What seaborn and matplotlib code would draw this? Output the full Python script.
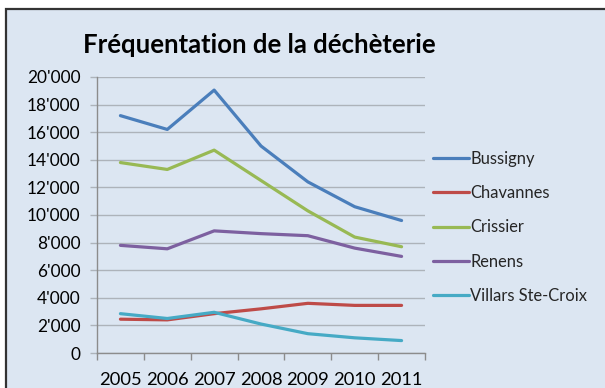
import matplotlib
matplotlib.use("Agg")
import matplotlib.pyplot as plt
from matplotlib.patches import Rectangle
from matplotlib.ticker import FuncFormatter, FixedLocator
import seaborn as sns
import pandas as pd

years = [2005, 2006, 2007, 2008, 2009, 2010, 2011]
bussigny = [17200, 16200, 19050, 15000, 12400, 10600, 9600]
chavannes = [2450, 2400, 2850, 3200, 3600, 3450, 3450]
crissier = [13800, 13300, 14700, 12500, 10300, 8400, 7700]
renens = [7800, 7550, 8850, 8650, 8500, 7600, 7000]
villars = [2850, 2500, 2950, 2100, 1400, 1100, 900]

series = {
    "Bussigny": bussigny,
    "Chavannes": chavannes,
    "Crissier": crissier,
    "Renens": renens,
    "Villars Ste-Croix": villars,
}
colors = ["#4a7ebb", "#be4b48", "#98b954", "#7d60a0", "#46aac5"]

rows = []
for name, vals in series.items():
    for y, v in zip(years, vals):
        rows.append({"Année": y, "Visites": v, "Déchèterie": name})
df = pd.DataFrame(rows)

sns.set_theme(style="white")
plt.rcParams["font.family"] = ["Lato", "DejaVu Sans"]

W, H = 605, 388
fig = plt.figure(figsize=(W / 100, H / 100), dpi=100)
fig.patch.set_facecolor("white")

bg = "#dce6f2"
frame = Rectangle((5.5 / W, -0.1), 1.2, 1.1 - 9.5 / H, transform=fig.transFigure,
                  facecolor=bg, edgecolor="#333333", linewidth=1.6, zorder=-10)
fig.patches.append(frame)

ax = fig.add_axes([97 / W, (H - 353) / H, (425 - 97) / W, (353 - 77) / H])
ax.set_zorder(5)
ax.set_facecolor("none")

sns.lineplot(data=df, x="Année", y="Visites", hue="Déchèterie",
             palette=colors, linewidth=2.3, ax=ax, legend=True)

ax.set_xlim(2004.5, 2011.5)
ax.set_ylim(0, 20000)
ax.set_yticks(range(0, 20001, 2000))
ax.yaxis.set_major_formatter(FuncFormatter(
    lambda v, p: "0" if v == 0 else f"{int(v):,}".replace(",", "'")))
ax.set_xticks(years)
ax.set_xticklabels([str(y) for y in years])
ax.xaxis.set_minor_locator(FixedLocator([y + 0.5 for y in range(2004, 2012)]))

grid_c = "#adb3ba"
ax.grid(axis="y", color=grid_c, linewidth=1.0)
ax.set_axisbelow(True)
for s in ["top", "right"]:
    ax.spines[s].set_visible(False)
for s in ["left", "bottom"]:
    ax.spines[s].set_color("#8c8c8c")
    ax.spines[s].set_linewidth(1.0)

ax.tick_params(axis="y", which="major", length=5, width=1, color=grid_c,
               labelsize=12.4, pad=7, labelcolor="black", left=True)
ax.tick_params(axis="x", which="major", length=0, labelsize=13.2, pad=13.5,
               labelcolor="black")
ax.tick_params(axis="x", which="minor", length=5, width=1, color="#8c8c8c",
               bottom=True)
ax.set_xlabel("")
ax.set_ylabel("")

fig.text(83 / W, 1 - 45 / H, "Fréquentation de la déchèterie", fontsize=18.5,
         fontweight="bold", ha="left", va="center", color="black")

handles, labels = ax.get_legend_handles_labels()
ax.legend(handles, labels, loc="upper left",
          bbox_to_anchor=(433 / W, 1 - 151 / H), bbox_transform=fig.transFigure,
          frameon=False, fontsize=11.9, handlelength=2.2, handletextpad=0.05,
          labelspacing=1.1, borderaxespad=0, borderpad=0)

fig.savefig("out.png", dpi=100)
